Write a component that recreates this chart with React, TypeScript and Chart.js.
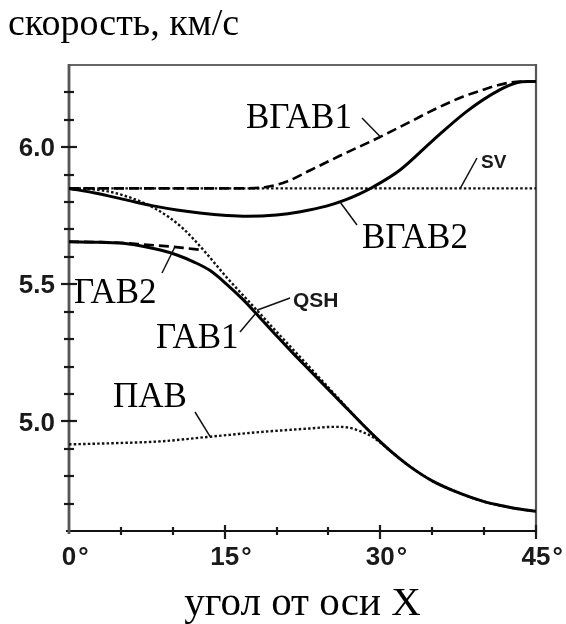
import React, { useEffect, useRef } from "react";
import { Chart, registerables } from "chart.js";

Chart.register(...registerables);

// ---- data: wave speed (km/s) versus propagation angle from the X axis (deg) ----
const svAngle = [0, 45];
const svSpeed = [5.85, 5.85];

const vgav1Angle = [0, 10, 17, 19, 21, 23.2, 26, 30, 33, 35.1, 38, 40, 41.3, 42.5, 43.5, 45];
const vgav1Speed = [5.85, 5.85, 5.85, 5.855, 5.875, 5.915, 5.967, 6.038, 6.095, 6.136, 6.185, 6.211, 6.226, 6.236, 6.24, 6.24];

const vgav2Angle = [0, 2.5, 5.6, 8, 10.4, 12.6, 15.2, 17.2, 20, 22.3, 24.8, 26.5, 28, 29.3, 31.9, 35.1, 38.3, 41.5, 43.2, 44.2, 45];
const vgav2Speed = [5.85, 5.833, 5.807, 5.787, 5.771, 5.76, 5.751, 5.748, 5.753, 5.765, 5.785, 5.806, 5.83, 5.855, 5.917, 6.026, 6.13, 6.209, 6.236, 6.24, 6.24];

const gav1Angle = [0, 3, 5.6, 8.8, 10.4, 12, 13.6, 15.2, 16.8, 18.4, 20, 21.6, 23.2, 24.8, 26.4, 28, 29.6, 31.2, 32.9, 35, 37.7, 40, 41.6, 43.2, 45];
const gav1Speed = [5.655, 5.653, 5.648, 5.625, 5.607, 5.582, 5.55, 5.5, 5.443, 5.378, 5.312, 5.248, 5.186, 5.124, 5.062, 5.0, 4.94, 4.885, 4.834, 4.783, 4.737, 4.707, 4.693, 4.681, 4.672];

const gav2Angle = [0, 3, 5.6, 7.2, 9.7, 11, 12.6];
const gav2Speed = [5.655, 5.654, 5.65, 5.645, 5.638, 5.633, 5.626];

const qshAngle = [0, 2, 4, 6, 7.2, 8.5, 9.7, 11, 12, 13.3, 15.2, 17.8, 20, 23.2, 26.4, 28, 29.6, 31.2, 32.9, 35, 37.7, 40, 41.6, 43.2, 45];
const qshSpeed = [5.85, 5.847, 5.837, 5.815, 5.797, 5.772, 5.743, 5.703, 5.665, 5.61, 5.525, 5.418, 5.327, 5.197, 5.066, 5.0, 4.94, 4.885, 4.834, 4.783, 4.737, 4.707, 4.693, 4.681, 4.672];

const pavAngle = [0, 4, 8.8, 13.6, 18.4, 23.2, 25.5, 26.8, 28, 29.3, 30.5, 31.5];
const pavSpeed = [4.916, 4.92, 4.927, 4.944, 4.961, 4.974, 4.98, 4.978, 4.965, 4.942, 4.907, 4.875];

// ---- axes ----
const xMin = 0;
const xMax = 45;
const yMin = 4.6;
const yMax = 6.3;
const xLabelValues = [0, 15, 30, 45];
const xMinorStep = 5;
const yLabelValues = [5.0, 5.5, 6.0];
const yLabelTexts = ["5.0", "5.5", "6.0"];
const yMinorStep = 0.1;

const titleText = "скорость, км/с";
const xTitleText = "угол от оси X";

const SERIF = '"Liberation Serif", "Times New Roman", serif';
const SANS = '"Liberation Sans", Arial, sans-serif';

function toPoints(xs: number[], ys: number[]) {
  return xs.map((x, i) => ({ x, y: ys[i] }));
}

const seriesTable: Record<string, { a: number[]; v: number[] }> = {
  SV: { a: svAngle, v: svSpeed },
  VGAV1: { a: vgav1Angle, v: vgav1Speed },
  VGAV2: { a: vgav2Angle, v: vgav2Speed },
  GAV1: { a: gav1Angle, v: gav1Speed },
  GAV2: { a: gav2Angle, v: gav2Speed },
  QSH: { a: qshAngle, v: qshSpeed },
  PAV: { a: pavAngle, v: pavSpeed },
};

function speedAt(key: string, angle: number) {
  const { a, v } = seriesTable[key];
  for (let i = 0; i < a.length - 1; i++) {
    if (angle >= a[i] && angle <= a[i + 1]) {
      const t = (angle - a[i]) / (a[i + 1] - a[i]);
      return v[i] + t * (v[i + 1] - v[i]);
    }
  }
  return v[v.length - 1];
}

// curve captions: text, font, text position (px), leader start (px), curve + angle the leader points to
const callouts = [
  { text: "ВГАВ1", font: `35px ${SERIF}`, tx: 246, ty: 128, lx: 362, ly: 118, curve: "VGAV1", angle: 30.0 },
  { text: "SV", font: `bold 19px ${SANS}`, tx: 481, ty: 168, lx: 477, ly: 158, curve: "SV", angle: 37.7 },
  { text: "ВГАВ2", font: `35px ${SERIF}`, tx: 362, ty: 248, lx: 357, ly: 225, curve: "VGAV2", angle: 26.1 },
  { text: "ГАВ2", font: `35px ${SERIF}`, tx: 74, ty: 303, lx: 162, ly: 273, curve: "GAV2", angle: 10.2 },
  { text: "QSH", font: `bold 21px ${SANS}`, tx: 293, ty: 307, lx: 290, ly: 298, curve: "QSH", angle: 18.1 },
  { text: "ГАВ1", font: `35px ${SERIF}`, tx: 156, ty: 348, lx: 240, ly: 332, curve: "GAV1", angle: 18.0 },
  { text: "ПАВ", font: `35px ${SERIF}`, tx: 113, ty: 407, lx: 195, ly: 412, curve: "PAV", angle: 13.6 },
];

const decorPlugin = {
  id: "decor",
  beforeDatasetsDraw(chart: any) {
    const ctx = chart.ctx as CanvasRenderingContext2D;
    const { left, right, top, bottom } = chart.chartArea;
    const xs = chart.scales.x;
    const ys = chart.scales.y;
    ctx.save();
    ctx.lineCap = "butt";

    // top border
    ctx.strokeStyle = "#333";
    ctx.lineWidth = 1.6;
    ctx.beginPath();
    ctx.moveTo(left, top);
    ctx.lineTo(right, top);
    ctx.stroke();

    // right border
    ctx.strokeStyle = "#555";
    ctx.lineWidth = 2.2;
    ctx.beginPath();
    ctx.moveTo(right, top - 1);
    ctx.lineTo(right, bottom + 2);
    ctx.stroke();

    // bottom axis
    ctx.strokeStyle = "#111";
    ctx.lineWidth = 2.2;
    ctx.beginPath();
    ctx.moveTo(left - 3, bottom);
    ctx.lineTo(right, bottom);
    ctx.stroke();

    // left axis
    ctx.strokeStyle = "#555";
    ctx.lineWidth = 2.8;
    ctx.beginPath();
    ctx.moveTo(left, top - 1);
    ctx.lineTo(left, bottom + 3);
    ctx.stroke();

    // y ticks (crossing the axis)
    ctx.strokeStyle = "#1a1a1a";
    ctx.lineWidth = 2.2;
    for (let v = yMin + yMinorStep; v < yMax - 1e-6; v += yMinorStep) {
      const y = Math.round(ys.getPixelForValue(v));
      const major = yLabelValues.some((m) => Math.abs(m - v) < 1e-6);
      ctx.beginPath();
      ctx.moveTo(left - (major ? 8 : 5), y);
      ctx.lineTo(left + (major ? 8 : 5), y);
      ctx.stroke();
    }

    // x ticks
    for (let a = xMin + xMinorStep; a <= xMax + 1e-6; a += xMinorStep) {
      const x = Math.round(xs.getPixelForValue(a));
      const major = xLabelValues.includes(Math.round(a));
      ctx.beginPath();
      ctx.moveTo(x, bottom - (major ? 6 : 4));
      ctx.lineTo(x, bottom + (major ? 8 : 4));
      ctx.stroke();
    }
    ctx.restore();
  },
  afterDatasetsDraw(chart: any) {
    const ctx = chart.ctx as CanvasRenderingContext2D;
    const { left, right, bottom } = chart.chartArea;
    const xs = chart.scales.x;
    const ys = chart.scales.y;
    ctx.save();

    // y tick labels
    ctx.fillStyle = "#1a1a1a";
    ctx.font = `bold 26px ${SANS}`;
    ctx.textAlign = "right";
    ctx.textBaseline = "middle";
    yLabelValues.forEach((v, i) => {
      ctx.fillText(yLabelTexts[i], left - 14, ys.getPixelForValue(v) + 2);
    });

    // x tick labels: number centred on tick, degree sign after it
    ctx.textBaseline = "alphabetic";
    xLabelValues.forEach((a) => {
      const x = xs.getPixelForValue(a);
      const num = String(a);
      const w = ctx.measureText(num).width;
      ctx.textAlign = "left";
      ctx.fillText(num, x - w / 2, bottom + 34);
      ctx.fillText("°", x + w / 2 + 2, bottom + 34);
    });

    // captions with leader lines
    ctx.strokeStyle = "#111";
    ctx.lineWidth = 1.5;
    ctx.fillStyle = "#000";
    callouts.forEach((c) => {
      const px = xs.getPixelForValue(c.angle);
      const py = ys.getPixelForValue(speedAt(c.curve, c.angle));
      ctx.beginPath();
      ctx.moveTo(c.lx, c.ly);
      ctx.lineTo(px, py);
      ctx.stroke();
      ctx.font = c.font;
      ctx.fillStyle = c.font.includes("bold") ? "#1a1a1a" : "#000";
      ctx.textAlign = "left";
      ctx.fillText(c.text, c.tx, c.ty);
    });

    // titles
    ctx.fillStyle = "#000";
    ctx.font = `38px ${SERIF}`;
    ctx.textAlign = "left";
    ctx.fillText(titleText, 8, 35);
    ctx.font = `41px ${SERIF}`;
    ctx.textAlign = "center";
    ctx.fillText(xTitleText, (left + right) / 2, bottom + 84);

    ctx.restore();
  },
};

const solid = { borderColor: "#000", borderWidth: 3, borderDash: [] as number[] };
const dashed = { borderColor: "#000", borderWidth: 2.6, borderDash: [10, 5] };
const dotted = { borderColor: "#111", borderWidth: 2.4, borderDash: [2.5, 2.2] };

export default function App() {
  const canvasRef = useRef<HTMLCanvasElement | null>(null);

  useEffect(() => {
    document.body.style.margin = "0";
    const canvas = canvasRef.current;
    if (!canvas) return;
    const common = { pointRadius: 0, fill: false, cubicInterpolationMode: "monotone" as const };
    const chart = new Chart(canvas, {
      type: "line",
      data: {
        datasets: [
          { label: "ВГАВ2", data: toPoints(vgav2Angle, vgav2Speed), ...solid, ...common, order: 0 },
          { label: "ГАВ1", data: toPoints(gav1Angle, gav1Speed), ...solid, ...common, order: 0 },
          { label: "ВГАВ1", data: toPoints(vgav1Angle, vgav1Speed), ...dashed, ...common, order: 1 },
          { label: "ГАВ2", data: toPoints(gav2Angle, gav2Speed), ...dashed, ...common, order: 1 },
          { label: "SV", data: toPoints(svAngle, svSpeed), ...dotted, ...common, order: 2 },
          { label: "QSH", data: toPoints(qshAngle, qshSpeed), ...dotted, ...common, order: 2 },
          { label: "ПАВ", data: toPoints(pavAngle, pavSpeed), ...dotted, ...common, order: 2 },
        ],
      },
      options: {
        animation: false,
        responsive: false,
        devicePixelRatio: 1,
        layout: { padding: { left: 69, top: 65, right: 30, bottom: 93 } },
        plugins: { legend: { display: false }, tooltip: { enabled: false }, title: { display: false } },
        scales: {
          x: { type: "linear", min: xMin, max: xMax, display: false },
          y: { type: "linear", min: yMin, max: yMax, display: false },
        },
      },
      plugins: [decorPlugin],
    });
    return () => chart.destroy();
  }, []);

  return (
    <div style={{ position: "absolute", left: 0, top: 0, width: 566, height: 624, background: "#fff" }}>
      <canvas ref={canvasRef} width={566} height={624} style={{ width: 566, height: 624, display: "block" }} />
    </div>
  );
}
